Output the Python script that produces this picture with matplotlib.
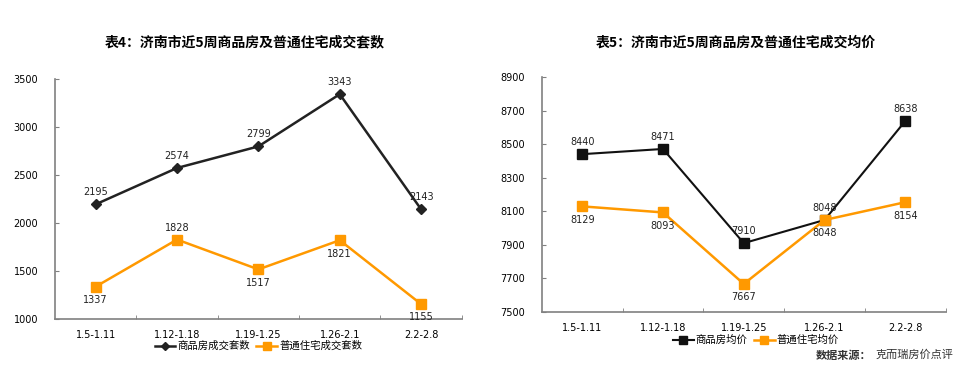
import matplotlib
matplotlib.use("Agg")
import matplotlib.pyplot as plt

plt.rcParams['font.family'] = ['Noto Sans CJK SC', 'DejaVu Sans']

weeks = ['1.5-1.11', '1.12-1.18', '1.19-1.25', '1.26-2.1', '2.2-2.8']

# table 4: deal counts
count_all = [2195, 2574, 2799, 3343, 2143]
count_normal = [1337, 1828, 1517, 1821, 1155]
count_normal_pos = ['below', 'above', 'below', 'below', 'below']

# table 5: average prices
price_all = [8440, 8471, 7910, 8048, 8638]
price_normal = [8129, 8093, 7667, 8048, 8154]

BLACK = '#222222'
ORANGE = '#FF9900'
GREY = '#808080'

fig = plt.figure(figsize=(9.78, 3.69), dpi=100)


def style_axes(ax, ymin, ymax, step):
    for s in ['top', 'right']:
        ax.spines[s].set_visible(False)
    for s in ['left', 'bottom']:
        ax.spines[s].set_color(GREY)
        ax.spines[s].set_linewidth(1.2)
    ax.set_xlim(-0.5, 4.5)
    ax.set_ylim(ymin, ymax)
    ax.set_yticks(range(ymin, ymax + 1, step))
    ax.tick_params(axis='y', length=3, color=GREY, labelsize=7, pad=12,
                   direction='in')
    ax.set_xticks(range(len(weeks)))
    ax.set_xticklabels(weeks, family='DejaVu Sans')
    ax.tick_params(axis='x', length=0, labelsize=7, pad=8)
    ax.set_xticks([i + 0.5 for i in range(len(weeks))], minor=True)
    ax.tick_params(axis='x', which='minor', length=3, color=GREY,
                   direction='in')
    for lab in ax.get_yticklabels():
        lab.set_family('DejaVu Sans')


def label(ax, x, y, text, where):
    dy = 5 if where == 'above' else -6
    va = 'bottom' if where == 'above' else 'top'
    ax.annotate(text, (x, y), xytext=(0, dy), textcoords='offset points',
                ha='center', va=va, fontsize=7, family='DejaVu Sans',
                color='#222222')


# left chart
ax1 = fig.add_axes([0.0562, 0.1355, 0.416, 0.650])
xs = range(len(weeks))
ax1.plot(xs, count_all, color=BLACK, lw=1.8, marker='D', ms=5,
         label='商品房成交套数')
ax1.plot(xs, count_normal, color=ORANGE, lw=1.8, marker='s', ms=7,
         label='普通住宅成交套数')
style_axes(ax1, 1000, 3500, 500)
for i in xs:
    label(ax1, i, count_all[i], str(count_all[i]), 'above')
    label(ax1, i, count_normal[i], str(count_normal[i]), count_normal_pos[i])
ax1.legend(loc='center', bbox_to_anchor=(0.5, -0.113), ncol=2,
           frameon=False, fontsize=7.5, handlelength=2.0, handletextpad=0.2,
           columnspacing=0.6, markerscale=0.8)
fig.text(0.25, 0.885, '表4：济南市近5周商品房及普通住宅成交套数',
         ha='center', va='center', fontsize=10, fontweight='bold')

# right chart
ax2 = fig.add_axes([0.554, 0.1545, 0.413, 0.637])
ax2.plot(xs, price_all, color='#111111', lw=1.5, marker='s', ms=6.5,
         label='商品房均价')
ax2.plot(xs, price_normal, color=ORANGE, lw=1.8, marker='s', ms=7,
         label='普通住宅均价')
style_axes(ax2, 7500, 8900, 200)
for i in xs:
    label(ax2, i, price_all[i], str(price_all[i]), 'above')
    label(ax2, i, price_normal[i], str(price_normal[i]), 'below')
ax2.legend(loc='center', bbox_to_anchor=(0.53, -0.12), ncol=2,
           frameon=False, fontsize=7.5, handlelength=2.0, handletextpad=0.2,
           columnspacing=0.6, markerscale=0.8)
fig.text(0.752, 0.885, '表5：济南市近5周商品房及普通住宅成交均价',
         ha='center', va='center', fontsize=10, fontweight='bold')

fig.text(0.834, 0.038, '数据来源：', ha='left', va='center', fontsize=8,
         fontweight='bold', color='#333333')
fig.text(0.895, 0.038, '克而瑞房价点评', ha='left', va='center', fontsize=8,
         color='#333333')

fig.savefig('out.png', dpi=100)
